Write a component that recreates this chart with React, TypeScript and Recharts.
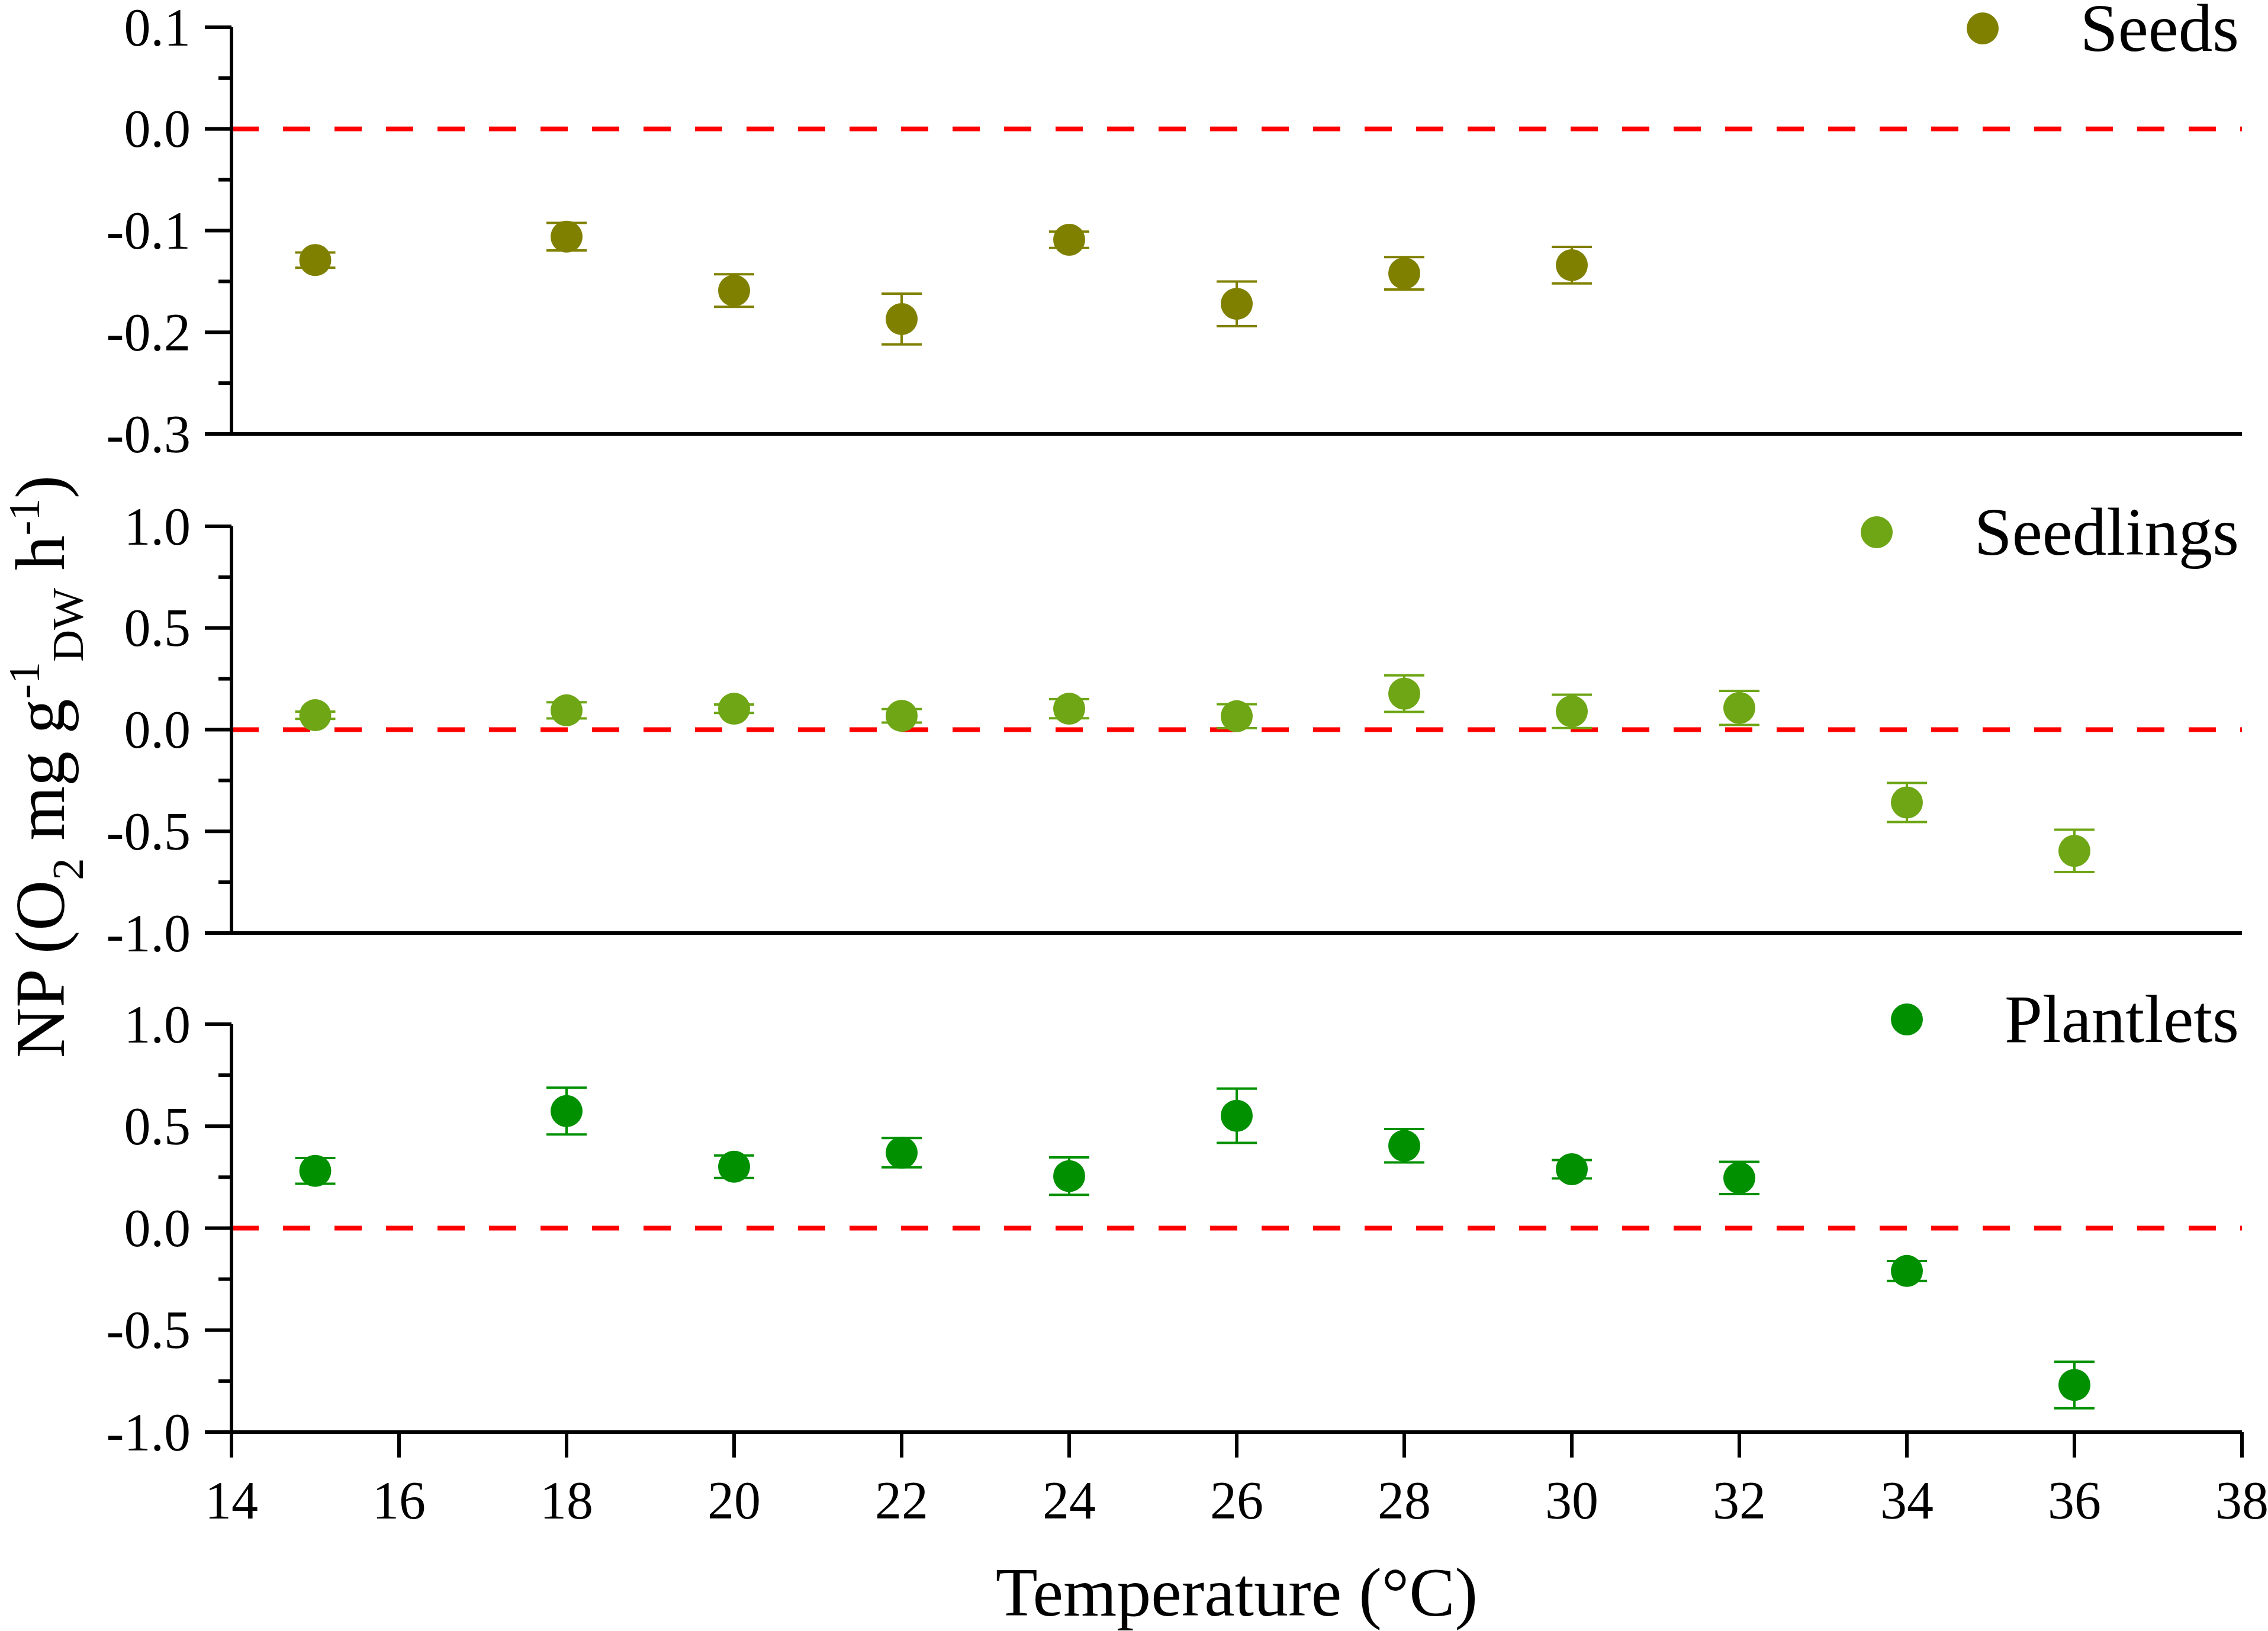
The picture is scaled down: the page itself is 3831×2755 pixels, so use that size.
import { ScatterChart, Scatter, XAxis, YAxis, ErrorBar, ReferenceLine, Legend } from "recharts";

const FONT = "'Times New Roman', 'Liberation Serif', serif";

const temps = [15, 18, 20, 22, 24, 26, 28, 30, 32, 34, 36];
const xTicks = [14, 16, 18, 20, 22, 24, 26, 28, 30, 32, 34, 36, 38];

const seedsNP = [-0.129, -0.106, -0.159, -0.187, -0.109, -0.172, -0.142, -0.134];
const seedsErr = [0.0075, 0.0135, 0.016, 0.025, 0.008, 0.022, 0.016, 0.018];

const seedlingsNP = [0.071, 0.095, 0.103, 0.068, 0.103, 0.066, 0.177, 0.09, 0.107, -0.358, -0.596];
const seedlingsErr = [0.018, 0.04, 0.021, 0.033, 0.047, 0.059, 0.09, 0.082, 0.084, 0.096, 0.104];

const plantletsNP = [0.281, 0.574, 0.301, 0.37, 0.255, 0.551, 0.404, 0.289, 0.246, -0.21, -0.769];
const plantletsErr = [0.063, 0.115, 0.055, 0.072, 0.092, 0.133, 0.082, 0.045, 0.079, 0.049, 0.114];

const seedsTicks = [-0.3, -0.2, -0.1, 0, 0.1];
const seedsMinor = [-0.25, -0.15, -0.05, 0.05];
const npTicks = [-1, -0.5, 0, 0.5, 1];
const npMinor = [-0.75, -0.25, 0.25, 0.75];

const TICK_FONT = 90;
const Y_TICK_SIZE = 45;
const Y_TICK_MARGIN = 24;

const toRows = (vals: number[], errs: number[]) =>
  vals.map((v, i) => ({ t: temps[i], np: v, err: errs[i] }));

const YTick = ({ x, y, payload, majors }: any) => {
  const axisX = x + Y_TICK_SIZE + Y_TICK_MARGIN;
  const isMajor = majors.includes(payload.value);
  return (
    <g>
      <line x1={axisX - (isMajor ? Y_TICK_SIZE : 22)} x2={axisX} y1={y} y2={y} stroke="#000" strokeWidth={6} />
      {isMajor && (
        <text x={x} y={y} textAnchor="end" dominantBaseline="central" fontSize={TICK_FONT} fontFamily={FONT} fill="#000">
          {payload.value.toFixed(1)}
        </text>
      )}
    </g>
  );
};

const LegendItem = ({ payload }: any) => {
  const item = payload?.[0];
  if (!item) return null;
  return (
    <div style={{ display: "flex", alignItems: "center", height: 92 }}>
      <svg width={56} height={56}>
        <circle cx={28} cy={28} r={27} fill={item.color} />
      </svg>
      <span style={{ marginLeft: 137, fontSize: 115, fontFamily: FONT, color: "#000", lineHeight: "92px" }}>{item.value}</span>
    </div>
  );
};

type PanelProps = {
  name: string;
  color: string;
  rows: { t: number; np: number; err: number }[];
  majors: number[];
  minors: number[];
  top: number;
  height: number;
  marginTop: number;
  marginBottom: number;
  xHeight: number;
  legendTop: number;
  last?: boolean;
};

const Panel = ({ name, color, rows, majors, minors, top, height, marginTop, marginBottom, xHeight, legendTop, last }: PanelProps) => (
  <div style={{ position: "absolute", left: 0, top, width: 3831, height }}>
    <ScatterChart width={3831} height={height} margin={{ top: marginTop, right: 44, bottom: marginBottom, left: 0 }}>
      <XAxis
        type="number"
        dataKey="t"
        domain={[14, 38]}
        ticks={xTicks}
        interval={0}
        height={xHeight}
        tickSize={43}
        tickMargin={39}
        axisLine={{ stroke: "#000", strokeWidth: 6 }}
        tickLine={{ stroke: "#000", strokeWidth: 6 }}
        tick={last ? { fontSize: TICK_FONT, fill: "#000", fontFamily: FONT } : false}
        label={
          last
            ? { value: "Temperature (°C)", position: "insideBottom", offset: 10, fontSize: 116, fill: "#000", fontFamily: FONT }
            : undefined
        }
      />
      <YAxis
        type="number"
        dataKey="np"
        domain={[majors[0], majors[majors.length - 1]]}
        ticks={[...majors, ...minors].sort((a, b) => a - b)}
        interval={0}
        width={391}
        tickSize={Y_TICK_SIZE}
        tickMargin={Y_TICK_MARGIN}
        axisLine={{ stroke: "#000", strokeWidth: 6 }}
        tickLine={false}
        tick={<YTick majors={majors} />}
        allowDataOverflow
      />
      <ReferenceLine y={0} stroke="#ff0000" strokeWidth={8} strokeDasharray="46 41" />
      <Legend
        layout="horizontal"
        verticalAlign="middle"
        align="center"
        content={<LegendItem />}
        wrapperStyle={{ top: legendTop, right: 49, left: "auto", width: "auto" }}
      />
      <Scatter
        name={name}
        data={rows}
        fill={color}
        isAnimationActive={false}
        shape={(p: any) => <circle cx={p.cx} cy={p.cy} r={27} fill={color} />}
      >
        <ErrorBar dataKey="err" direction="y" width={34} stroke={color} strokeWidth={4} isAnimationActive={false} />
      </Scatter>
    </ScatterChart>
  </div>
);

const App = () => (
  <div style={{ position: "absolute", left: 0, top: 0, width: 3831, height: 2755, background: "#fff", overflow: "hidden" }}>
    <Panel
      name="Seeds"
      color="#808000"
      rows={toRows(seedsNP, seedsErr)}
      majors={seedsTicks}
      minors={seedsMinor}
      top={0}
      height={820}
      marginTop={46}
      marginBottom={27}
      xHeight={60}
      legendTop={2}
    />
    <Panel
      name="Seedlings"
      color="#6ea615"
      rows={toRows(seedlingsNP, seedlingsErr)}
      majors={npTicks}
      minors={npMinor}
      top={800}
      height={840}
      marginTop={89}
      marginBottom={4}
      xHeight={60}
      legendTop={53}
    />
    <Panel
      name="Plantlets"
      color="#009000"
      rows={toRows(plantletsNP, plantletsErr)}
      majors={npTicks}
      minors={npMinor}
      top={1640}
      height={1115}
      marginTop={90}
      marginBottom={16}
      xHeight={320}
      legendTop={36}
      last
    />
    <svg style={{ position: "absolute", left: 0, top: 0 }} width={260} height={2755}>
      <text transform="translate(108,1295) rotate(-90)" textAnchor="middle" fontSize={118} fontFamily={FONT} fill="#000">
        NP (O
        <tspan dy={32} fontSize={75}>2</tspan>
        <tspan dy={-32}> mg g</tspan>
        <tspan dy={-42} fontSize={75}>-1</tspan>
        <tspan dy={74} fontSize={75}>DW</tspan>
        <tspan dy={-32}> h</tspan>
        <tspan dy={-42} fontSize={75}>-1</tspan>
        <tspan dy={42}>)</tspan>
      </text>
    </svg>
  </div>
);

export default App;
